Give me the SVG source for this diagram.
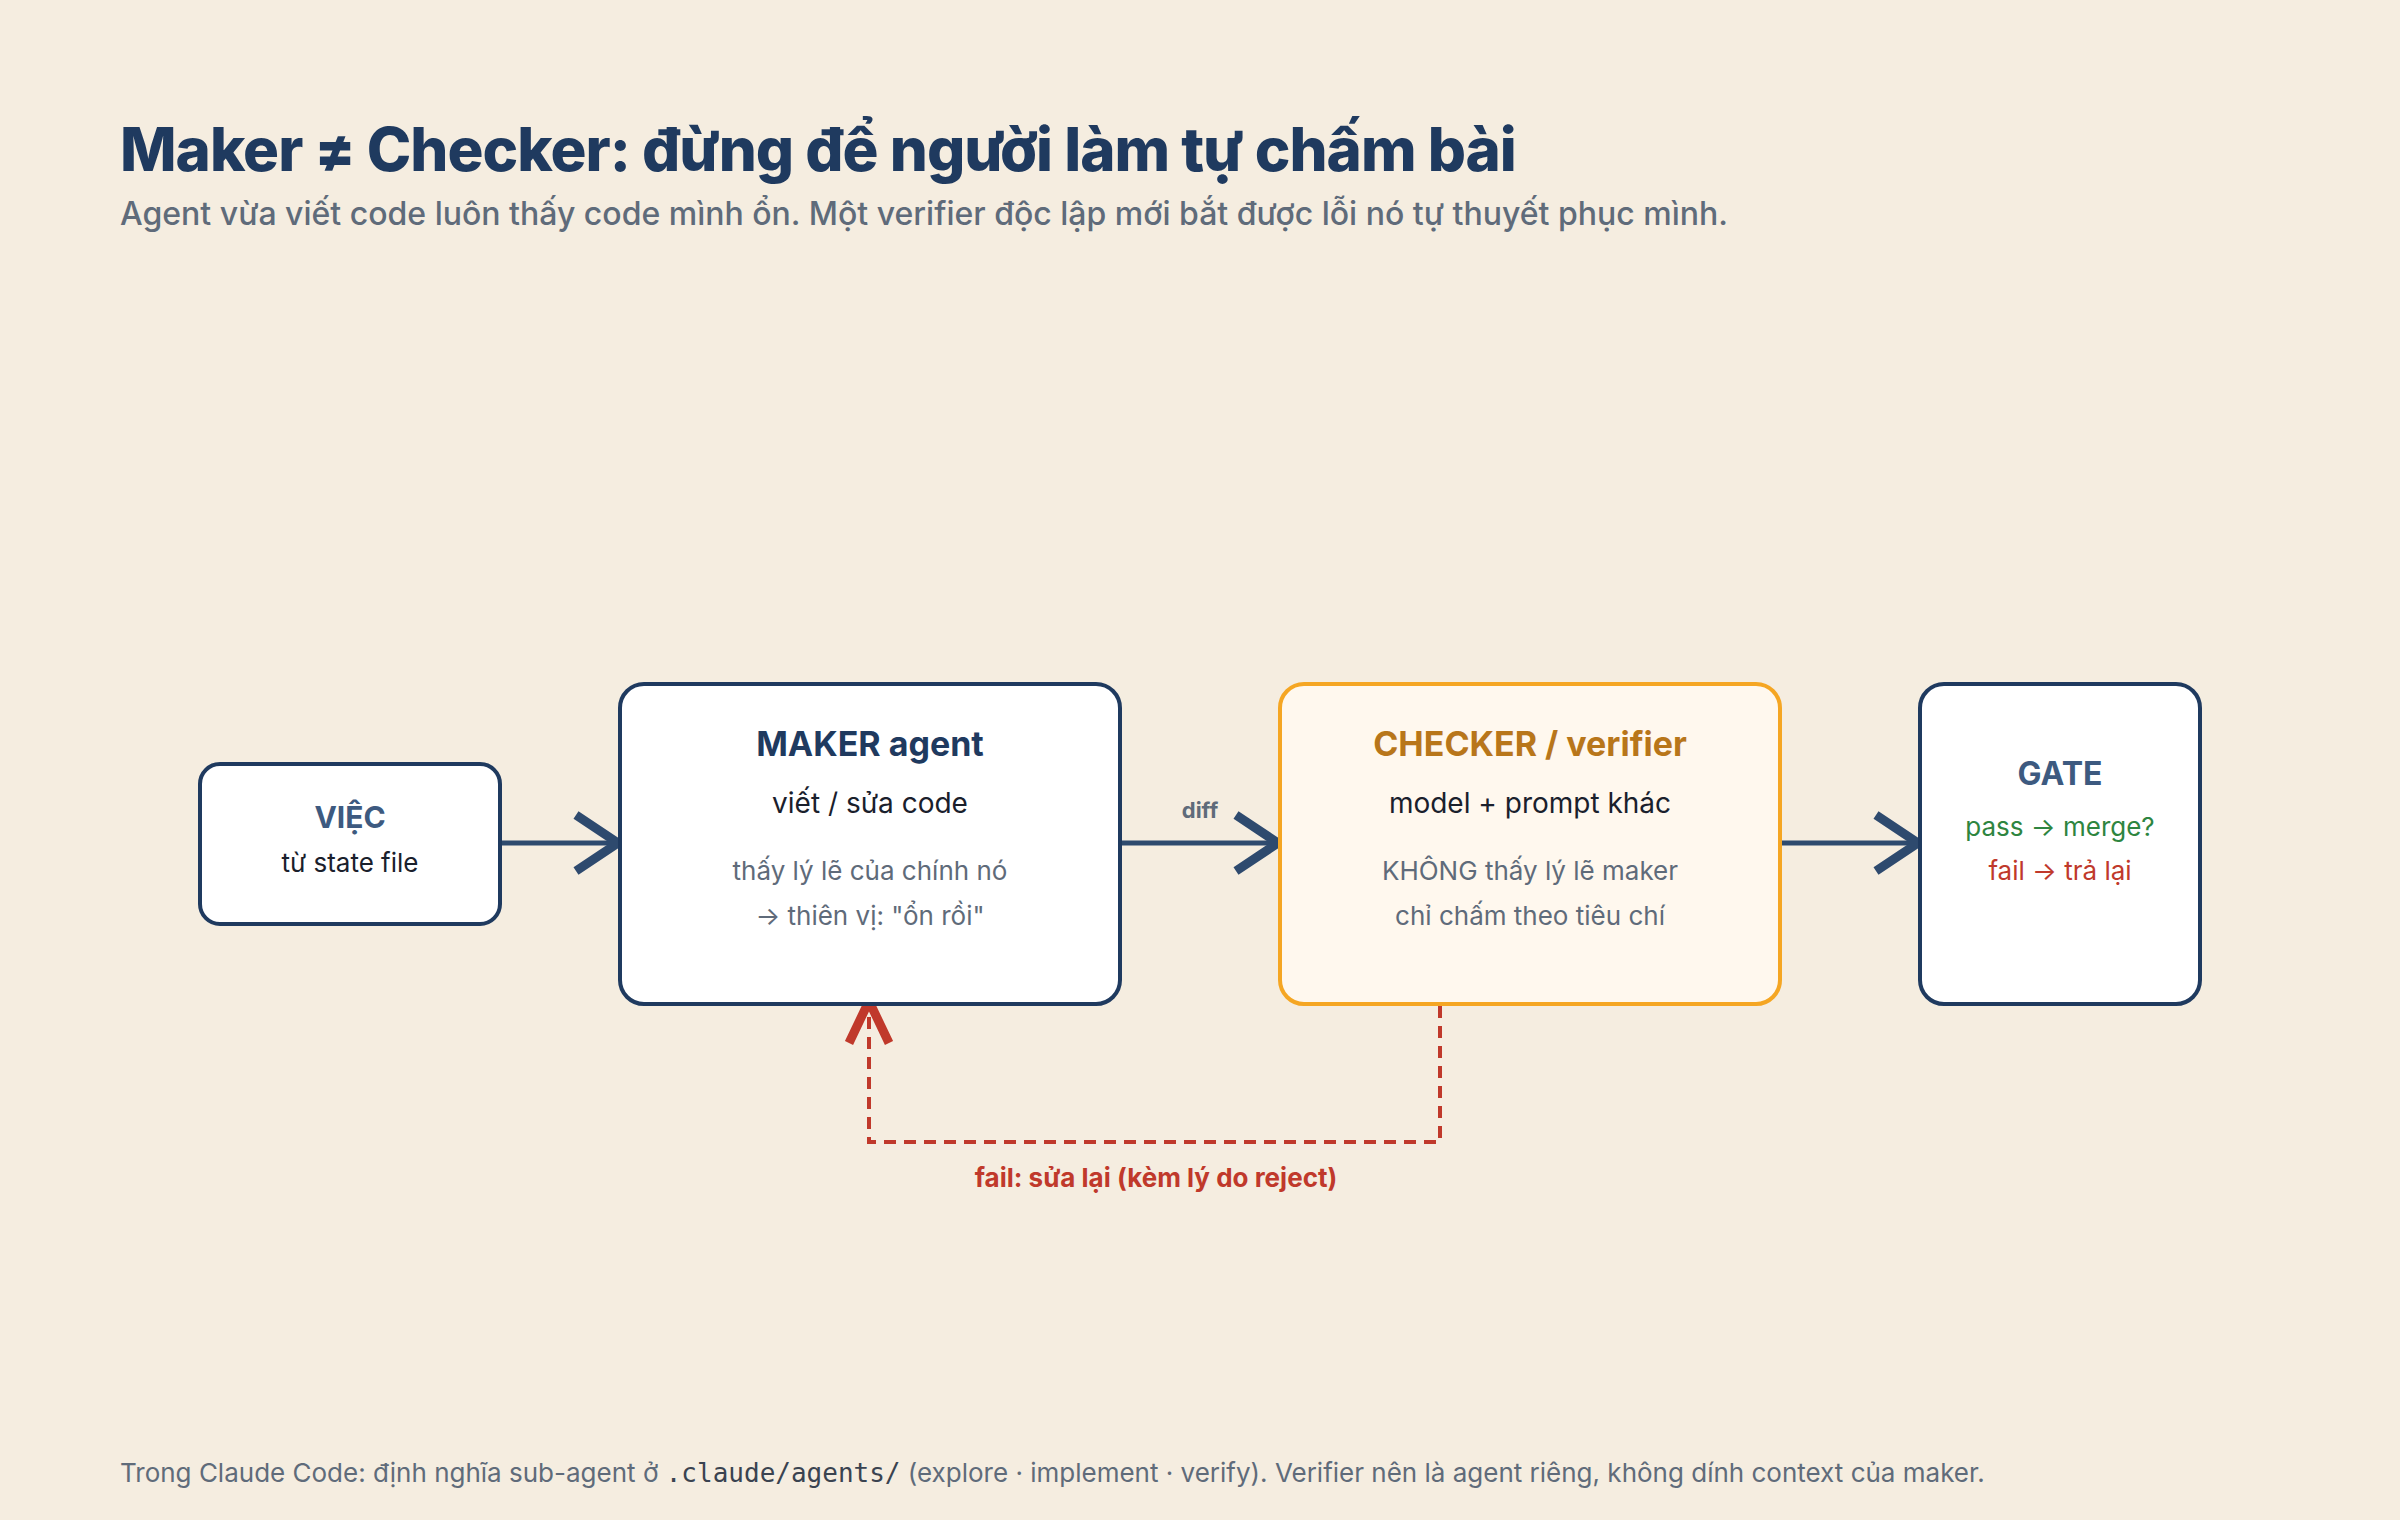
<svg xmlns="http://www.w3.org/2000/svg" width="2400" height="1520" viewBox="0 0 2400 1520">
<style>
text{font-family:Inter,"Noto Sans",sans-serif}
.box{fill:#fff;stroke:#1f3a5f;stroke-width:4}
.t{font-weight:700;text-anchor:middle}
.m{text-anchor:middle;fill:#1a202c;font-size:28px}
.g{text-anchor:middle;fill:#5f6b7a;font-size:26px}
.edge{stroke:#2e4a6e;stroke-width:5;fill:none}
.head{stroke:#2e4a6e;stroke-width:9;fill:none;stroke-linejoin:miter}
</style>
<rect width="2400" height="1520" fill="#f5ede0"/>
<text x="120" y="171" font-size="60" font-weight="800" letter-spacing="-1" fill="#1f3a5f">Maker ≠ Checker: đừng để người làm tự chấm bài</text>
<text x="120" y="225" font-size="32" font-weight="500" fill="#5f6b7a">Agent vừa viết code luôn thấy code mình ổn. Một verifier độc lập mới bắt được lỗi nó tự thuyết phục mình.</text>
<g id="connectors">
<line class="edge" x1="500" y1="843" x2="618" y2="843"/>
<polyline class="head" points="576,815 618,843 576,871"/>
<line class="edge" x1="1120" y1="843" x2="1278" y2="843"/>
<polyline class="head" points="1236,815 1278,843 1236,871"/>
<text x="1200" y="818" text-anchor="middle" font-size="22" font-weight="700" fill="#5f6b7a">diff</text>
<line class="edge" x1="1780" y1="843" x2="1918" y2="843"/>
<polyline class="head" points="1876,815 1918,843 1876,871"/>
<polyline points="1440,1006 1440,1142 869,1142 869,1010" fill="none" stroke="#c0392b" stroke-width="4" stroke-dasharray="12 8"/>
<polyline points="849,1043 869,1001 889,1043" fill="none" stroke="#c0392b" stroke-width="9"/>
<text x="1156" y="1187" text-anchor="middle" font-size="26" font-weight="700" fill="#c0392b">fail: sửa lại (kèm lý do reject)</text>
</g>
<g id="viec">
<rect class="box" x="200" y="764" width="300" height="160" rx="20"/>
<text class="t" x="350" y="828" font-size="30" fill="#3d5a80">VIỆC</text>
<text x="350" y="872" text-anchor="middle" font-size="26" fill="#1a202c">từ state file</text>
</g>
<g id="maker">
<rect class="box" x="620" y="684" width="500" height="320" rx="24"/>
<text class="t" x="870" y="756" font-size="34" fill="#1f3a5f">MAKER agent</text>
<text class="m" x="870" y="813">viết / sửa code</text>
<text class="g" x="870" y="880">thấy lý lẽ của chính nó</text>
<text class="g" x="870" y="925">→ thiên vị: "ổn rồi"</text>
</g>
<g id="checker">
<rect x="1280" y="684" width="500" height="320" rx="24" fill="#fff8ee" stroke="#f5a623" stroke-width="4"/>
<text class="t" x="1530" y="756" font-size="34" fill="#b8761a">CHECKER / verifier</text>
<text class="m" x="1530" y="813">model + prompt khác</text>
<text class="g" x="1530" y="880">KHÔNG thấy lý lẽ maker</text>
<text class="g" x="1530" y="925">chỉ chấm theo tiêu chí</text>
</g>
<g id="gate">
<rect class="box" x="1920" y="684" width="280" height="320" rx="24"/>
<text class="t" x="2060" y="785" font-size="32" fill="#3d5a80">GATE</text>
<text x="2060" y="836" text-anchor="middle" font-size="26" fill="#2e8540">pass → merge?</text>
<text x="2060" y="880" text-anchor="middle" font-size="26" fill="#c0392b">fail → trả lại</text>
</g>
<text x="120" y="1482" font-size="26" fill="#5f6b7a">Trong Claude Code: định nghĩa sub-agent ở <tspan font-family="'DejaVu Sans Mono',monospace" fill="#3a4350">.claude/agents/</tspan> (explore · implement · verify). Verifier nên là agent riêng, không dính context của maker.</text>
</svg>
